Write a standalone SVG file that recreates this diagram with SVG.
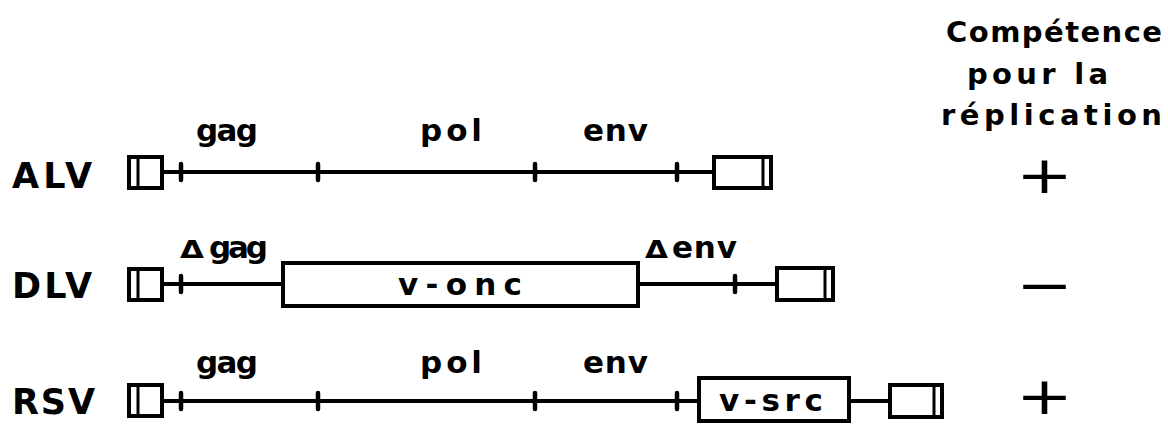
<svg xmlns="http://www.w3.org/2000/svg" width="1168" height="426" viewBox="0 0 1168 426">
  <style>
    .bg { fill: #ffffff; }
    .lbl { font-family: "DejaVu Sans", "Liberation Sans", sans-serif; font-weight: bold; fill: #000000; }
    .row { font-size: 35px; }
    .gene { font-size: 31px; }
    .head { font-size: 29px; }
    .onc { font-size: 31px; }
    .delta { font-size: 25px; }
    .sign { font-family: "DejaVu Sans", sans-serif; font-size: 52px; fill: #000000; }
    .ltr { fill: #ffffff; stroke: #000000; stroke-width: 4; }
    .box { fill: #ffffff; stroke: #000000; stroke-width: 4; }
    .wire { stroke: #000000; stroke-width: 3.8; fill: none; }
    .tick { stroke: #000000; stroke-width: 4.5; stroke-linecap: round; }
    .bar { stroke: #000000; stroke-width: 3; }
  </style>
  <rect class="bg" x="0" y="0" width="1168" height="426"/>

  <!-- column header -->
  <g id="header">
    <text class="lbl head" x="946" y="42" textLength="216" lengthAdjust="spacing">Compétence</text>
    <text class="lbl head" x="967" y="84" textLength="141" lengthAdjust="spacing">pour la</text>
    <text class="lbl head" x="941" y="125" textLength="221" lengthAdjust="spacing">réplication</text>
  </g>

  <!-- backbone lines between elements -->
  <g id="connectors">
    <line class="wire" x1="162" y1="172" x2="714" y2="172"/>
    <line class="wire" x1="162" y1="284" x2="283" y2="284"/>
    <line class="wire" x1="638" y1="284" x2="777" y2="284"/>
    <line class="wire" x1="162" y1="401" x2="699" y2="401"/>
    <line class="wire" x1="849" y1="401" x2="890" y2="401"/>
  </g>

  <!-- ALV -->
  <g id="alv">
    <text class="lbl row" x="12" y="188" textLength="80" lengthAdjust="spacing">ALV</text>
    <rect class="ltr" x="129" y="157" width="33" height="31"/>
    <line class="bar" x1="138" y1="158" x2="138" y2="187"/>
    <rect class="ltr" x="714" y="157" width="57" height="31"/>
    <line class="bar" x1="763" y1="158" x2="763" y2="187"/>
    <line class="tick" x1="181" y1="164" x2="181" y2="180"/>
    <line class="tick" x1="318" y1="164" x2="318" y2="180"/>
    <line class="tick" x1="535" y1="164" x2="535" y2="180"/>
    <line class="tick" x1="677" y1="164" x2="677" y2="180"/>
    <text class="lbl gene" x="196" y="141" textLength="62" lengthAdjust="spacing">gag</text>
    <text class="lbl gene" x="420" y="141" textLength="62" lengthAdjust="spacing">pol</text>
    <text class="lbl gene" x="583" y="141" textLength="65" lengthAdjust="spacing">env</text>
    <text class="sign" x="1016" y="193" textLength="57" lengthAdjust="spacingAndGlyphs">+</text>
  </g>

  <!-- DLV -->
  <g id="dlv">
    <text class="lbl row" x="12" y="298" textLength="80" lengthAdjust="spacing">DLV</text>
    <rect class="ltr" x="129" y="269" width="33" height="31"/>
    <line class="bar" x1="138" y1="270" x2="138" y2="299"/>
    <line class="tick" x1="181" y1="276" x2="181" y2="292"/>
    <rect class="box" x="283" y="263" width="355" height="43"/>
    <text class="lbl onc" x="398" y="295" textLength="124" lengthAdjust="spacing">v-onc</text>
    <line class="tick" x1="735" y1="276" x2="735" y2="292"/>
    <rect class="ltr" x="777" y="268" width="56" height="32"/>
    <line class="bar" x1="825" y1="269" x2="825" y2="299"/>
    <text class="lbl delta" x="180" y="258" textLength="24" lengthAdjust="spacingAndGlyphs">Δ</text>
    <text class="lbl gene" x="209" y="258" textLength="59" lengthAdjust="spacing">gag</text>
    <text class="lbl delta" x="645" y="258" textLength="23" lengthAdjust="spacingAndGlyphs">Δ</text>
    <text class="lbl gene" x="672" y="258" textLength="65" lengthAdjust="spacing">env</text>
    <text class="sign" x="1016" y="303" textLength="57" lengthAdjust="spacingAndGlyphs">−</text>
  </g>

  <!-- RSV -->
  <g id="rsv">
    <text class="lbl row" x="12" y="414" textLength="83" lengthAdjust="spacing">RSV</text>
    <rect class="ltr" x="129" y="385" width="33" height="31"/>
    <line class="bar" x1="138" y1="386" x2="138" y2="415"/>
    <line class="tick" x1="181" y1="393" x2="181" y2="409"/>
    <line class="tick" x1="318" y1="393" x2="318" y2="409"/>
    <line class="tick" x1="535" y1="393" x2="535" y2="409"/>
    <line class="tick" x1="677" y1="393" x2="677" y2="409"/>
    <rect class="box" x="699" y="378" width="150" height="43"/>
    <text class="lbl onc" x="719" y="411" textLength="104" lengthAdjust="spacing">v-src</text>
    <rect class="ltr" x="890" y="385" width="52" height="32"/>
    <line class="bar" x1="934" y1="386" x2="934" y2="416"/>
    <text class="lbl gene" x="196" y="373" textLength="62" lengthAdjust="spacing">gag</text>
    <text class="lbl gene" x="420" y="373" textLength="62" lengthAdjust="spacing">pol</text>
    <text class="lbl gene" x="583" y="373" textLength="65" lengthAdjust="spacing">env</text>
    <text class="sign" x="1016" y="413.5" textLength="57" lengthAdjust="spacingAndGlyphs">+</text>
  </g>
</svg>
